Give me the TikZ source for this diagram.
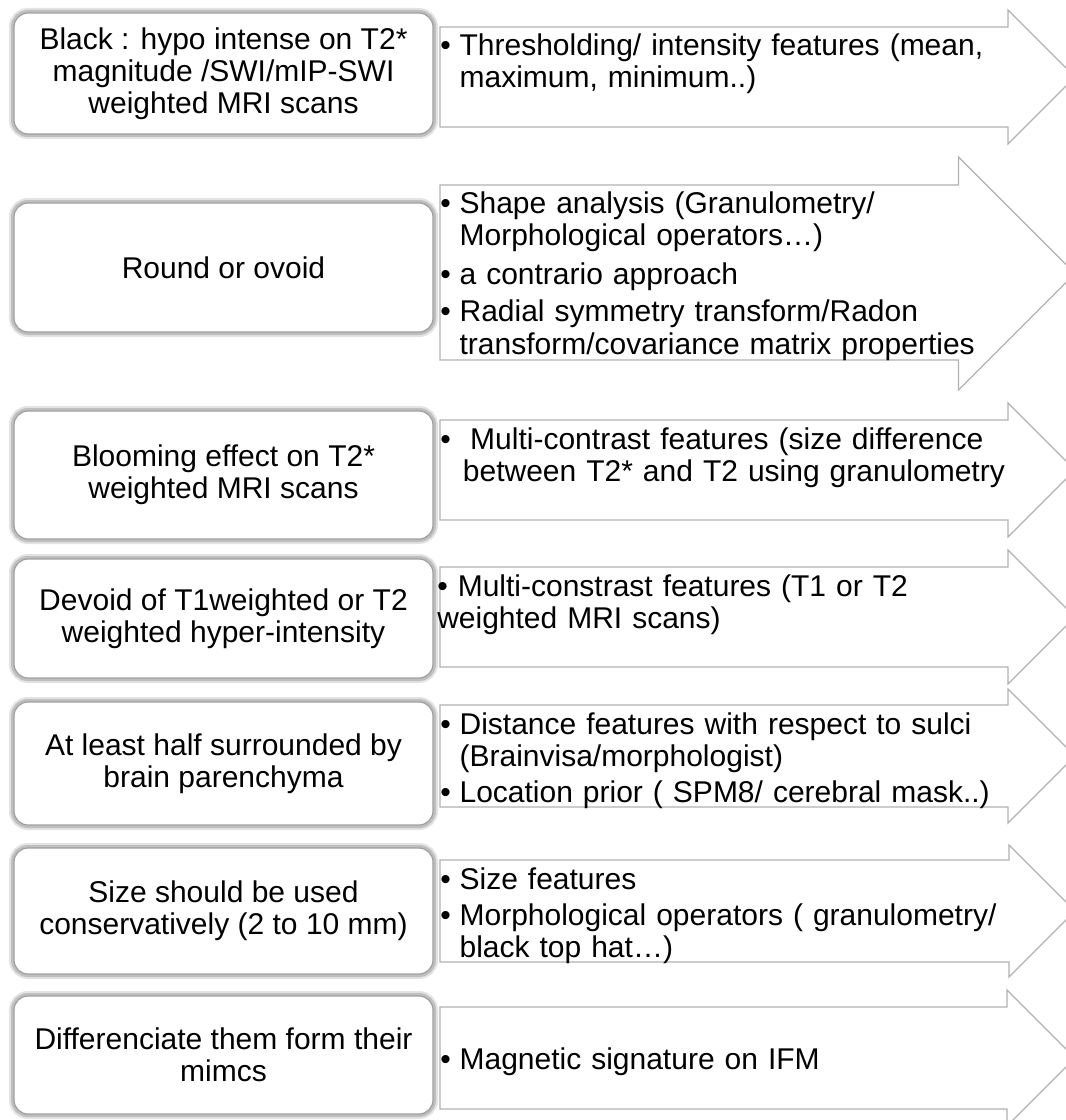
\documentclass[tikz,border=0pt]{standalone}
\usepackage{fontspec}
\setmainfont{Liberation Sans}
\newcommand\bul{\makebox[14.5pt][l]{•}}
\newcommand\ind{\hspace*{14.5pt}}
\tikzset{
  arrowshape/.style={draw=gray!60, line width=0.9pt, fill=white, line join=miter},
  leftbox/.style={draw=gray!75, line width=0.9pt, fill=white, rounded corners=10.5pt,
    preaction={draw=gray!22, line width=7.5pt},
    preaction={draw=gray!50, line width=4.5pt},
    minimum width=314.25pt, inner sep=0pt, align=center,
    font=\fontsize{22.5pt}{24pt}\selectfont},
  feattext/.style={anchor=base west, inner sep=0pt, text width=450pt, align=left,
    font=\fontsize{22.5pt}{24pt}\selectfont}
}
\newcommand\featarrow[4]{%
  \pgfmathsetmacro\hcen{(#3+#4)/2}%
  \pgfmathsetmacro\hbase{1075-(#4-#3)/2}%
  \draw[arrowshape] (440,#1) -- (\hbase,#1) -- (\hbase,#3) -- (1075,\hcen) -- (\hbase,#4) -- (\hbase,#2) -- (440,#2) -- cycle;%
}
\newcommand\critbox[4]{%
  \pgfmathsetmacro\bhgt{(#3-#2)*0.75}%
  \pgfmathsetmacro\bcen{(#2+#3)/2}%
  \node[leftbox, minimum height=\bhgt pt] (#1) at (223.5,\bcen) {#4};%
}
\begin{document}
\begin{tikzpicture}[x=0.75pt,y=-0.75pt]
\useasboundingbox (0,0) rectangle (1066,1120);
\clip (0,0) rectangle (1066,1120);
\fill[white] (0,0) rectangle (1066,1120);
% arrows
\featarrow{27}{127}{10}{144}
\featarrow{185}{360}{157}{390}
\featarrow{420}{520}{403}{537}
\featarrow{567}{667}{550}{684}
\featarrow{705}{807}{689}{823}
\featarrow{860}{962}{845}{977}
\featarrow{1007}{1109}{990}{1126}
% criteria boxes
\critbox{b1}{13}{134}{Black : hypo intense on T2*\\magnitude /SWI/mIP-SWI\\weighted MRI scans}
\critbox{b2}{203}{332}{Round or ovoid}
\critbox{b3}{411}{539}{Blooming effect on T2*\\weighted MRI scans}
\critbox{b4}{559}{678}{Devoid of T1weighted or T2\\weighted hyper-intensity}
\critbox{b5}{702}{825}{At least half surrounded by\\brain parenchyma}
\critbox{b6}{848}{974}{Size should be used\\conservatively (2 to 10 mm)}
\critbox{b7}{996}{1114}{Differenciate them form their\\mimcs}
% feature texts
\node[feattext] (t1) at (440,56) {\bul Thresholding/ intensity features (mean,\\\ind maximum, minimum..)};
\node[feattext] (t2) at (440,214) {\bul Shape analysis (Granulometry/\\\ind Morphological operators…)\\[4.5pt]\bul a contrario approach\\[4.5pt]\bul Radial symmetry transform/Radon\\\ind transform/covariance matrix properties};
\node[feattext] (t3) at (440,449) {\makebox[22.5pt][l]{•}Multi-contrast features (size difference\\\hspace*{17pt}between T2* and T2 using granulometry};
\node[feattext] (t4) at (437,596) {• Multi-constrast features (T1 or T2\\weighted MRI scans)};
\node[feattext] (t5) at (440,734) {\bul Distance features with respect to sulci\\\ind (Brainvisa/morphologist)\\[3pt]\bul Location prior ( SPM8/ cerebral mask..)};
\node[feattext] (t6) at (440,889) {\bul Size features\\[3pt]\bul Morphological operators ( granulometry/\\\ind black top hat…)};
\node[feattext] (t7) at (440,1069) {\bul Magnetic signature on IFM};
\end{tikzpicture}
\end{document}
